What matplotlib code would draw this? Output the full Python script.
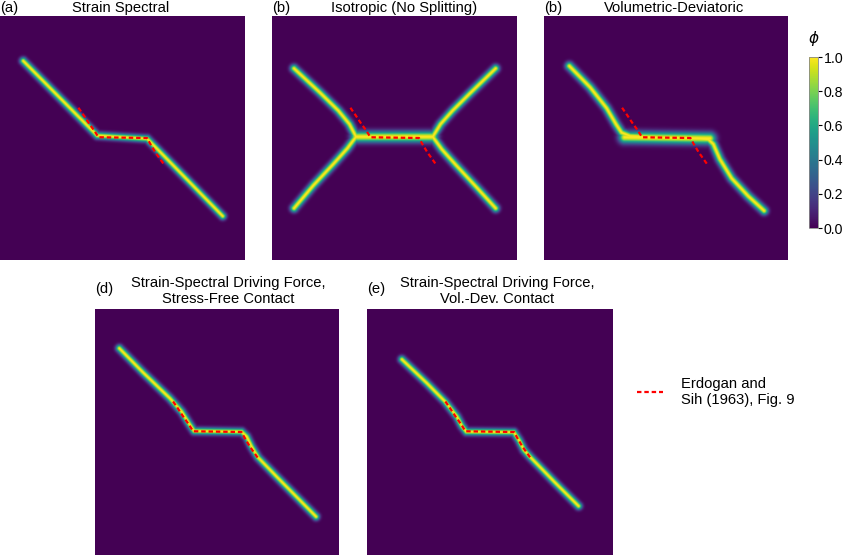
import numpy as np
import matplotlib
matplotlib.use('Agg')
import matplotlib.pyplot as plt
from matplotlib.lines import Line2D

plt.rcParams['font.family'] = ['Liberation Sans', 'DejaVu Sans']

# ---------------- data (axes-fraction coords, y measured from top) ----------------
panel_labels = ["(a)", "(b)", "(b)", "(d)", "(e)"]
panel_titles = ["Strain Spectral",
                "Isotropic (No Splitting)",
                "Volumetric-Deviatoric",
                "Strain-Spectral Driving Force,\nStress-Free Contact",
                "Strain-Spectral Driving Force,\nVol.-Dev. Contact"]

# (a) strain spectral
a_x = [0.095, 0.397, 0.601, 0.909]
a_y = [0.184, 0.490, 0.503, 0.820]

# (b) isotropic: four branches + horizontal bridge
b_ul_x = [0.090, 0.196, 0.271, 0.316, 0.343]
b_ul_y = [0.215, 0.314, 0.388, 0.443, 0.495]
b_ll_x = [0.343, 0.308, 0.250, 0.169, 0.090]
b_ll_y = [0.495, 0.542, 0.607, 0.694, 0.788]
b_h_x = [0.343, 0.656]
b_h_y = [0.495, 0.495]
b_ur_x = [0.656, 0.688, 0.737, 0.808, 0.913]
b_ur_y = [0.495, 0.443, 0.388, 0.317, 0.215]
b_lr_x = [0.656, 0.693, 0.751, 0.835, 0.913]
b_lr_y = [0.495, 0.546, 0.611, 0.702, 0.788]

# (c) volumetric-deviatoric
c_x = [0.104, 0.189, 0.257, 0.295, 0.318, 0.353, 0.462, 0.598, 0.674, 0.694, 0.721, 0.769, 0.837, 0.902]
c_y = [0.205, 0.292, 0.378, 0.443, 0.478, 0.492, 0.497, 0.499, 0.506, 0.525, 0.587, 0.665, 0.738, 0.798]
c_h_x = [0.33, 0.68]
c_h_y = [0.497, 0.502]

# (d) strain-spectral driving force, stress-free contact
d_x = [0.100, 0.198, 0.307, 0.355, 0.387, 0.406, 0.601, 0.622, 0.642, 0.669, 0.745, 0.906]
d_y = [0.160, 0.259, 0.363, 0.417, 0.468, 0.496, 0.499, 0.519, 0.560, 0.604, 0.682, 0.844]

# (e) strain-spectral driving force, vol.-dev. contact
e_x = [0.142, 0.244, 0.318, 0.366, 0.386, 0.404, 0.597, 0.618, 0.638, 0.665, 0.761, 0.860]
e_y = [0.205, 0.302, 0.377, 0.438, 0.476, 0.499, 0.501, 0.533, 0.573, 0.603, 0.702, 0.801]

# Erdogan and Sih (1963), Fig. 9 reference path
ref_x = [0.320, 0.340, 0.362, 0.385, 0.402, 0.600, 0.615, 0.635, 0.667]
ref_y = [0.376, 0.405, 0.438, 0.470, 0.497, 0.500, 0.527, 0.560, 0.605]

cbar_ticks = [0.0, 0.2, 0.4, 0.6, 0.8, 1.0]
legend_label = "Erdogan and\nSih (1963), Fig. 9"

# paths per panel: (xs, ys, band width factor)
panel_paths = [
    [(a_x, a_y, 1.0)],
    [(b_ul_x, b_ul_y, 1.1), (b_ll_x, b_ll_y, 1.1), (b_h_x, b_h_y, 1.6),
     (b_ur_x, b_ur_y, 1.1), (b_lr_x, b_lr_y, 1.1)],
    [(c_x, c_y, 1.15), (c_h_x, c_h_y, 1.7)],
    [(d_x, d_y, 1.0)],
    [(e_x, e_y, 1.0)],
]

# ---------------- layout (figure pixels) ----------------
W, H = 845, 555
# left, top, right, bottom in pixels
boxes = [(0, 16, 245, 260), (272, 16, 517, 260), (544, 16, 788, 260),
         (95, 309, 339, 555), (367, 309, 612, 555)]
title_cx = [120.5, 404, 674, 228, 497]


def seg_dist(X, Y, xs, ys):
    d = np.full(X.shape, np.inf)
    for i in range(len(xs) - 1):
        x0, y0, x1, y1 = xs[i], ys[i], xs[i + 1], ys[i + 1]
        dx, dy = x1 - x0, y1 - y0
        L2 = dx * dx + dy * dy
        t = np.clip(((X - x0) * dx + (Y - y0) * dy) / L2, 0, 1)
        d = np.minimum(d, np.hypot(X - (x0 + t * dx), Y - (y0 + t * dy)))
    return d


N = 500
g = (np.arange(N) + 0.5) / N
X, Y = np.meshgrid(g, g)
w0 = 0.0135

fig = plt.figure(figsize=(W / 100, H / 100), dpi=100)

im = None
for k, box in enumerate(boxes):
    l, t, r, b = box
    ax = fig.add_axes([l / W, 1 - b / H, (r - l) / W, (b - t) / H])
    phi = np.zeros_like(X)
    for xs, ys, wf in panel_paths[k]:
        dd = seg_dist(X, Y, xs, ys)
        phi = np.maximum(phi, np.exp(-(dd / (w0 * wf)) ** 2))
    im = ax.imshow(phi, cmap='viridis', vmin=0, vmax=1, extent=(0, 1, 1, 0),
                   origin='upper', aspect='auto', interpolation='antialiased')
    ax.plot(ref_x, ref_y, color='red', lw=1.6, linestyle=(0, (2.0, 1.3)))
    ax.set_xlim(0, 1)
    ax.set_ylim(1, 0)
    ax.axis('off')
    # titles
    if '\n' in panel_titles[k]:
        fig.text(title_cx[k] / W, 1 - (t - 3) / H, panel_titles[k], ha='center', va='bottom',
                 fontsize=10.6, linespacing=1.15)
        fig.text(l / W, 1 - (t - 20) / H, panel_labels[k], ha='left', va='center', fontsize=10.6)
    else:
        fig.text(title_cx[k] / W, 1 - (t - 8) / H, panel_titles[k], ha='center', va='center',
                 fontsize=10.6)
        fig.text(l / W, 1 - (t - 8) / H, panel_labels[k], ha='left', va='center', fontsize=10.6)

# colorbar
cax = fig.add_axes([809 / W, 1 - 228 / H, 9 / W, 171 / H])
cb = fig.colorbar(im, cax=cax, ticks=cbar_ticks)
cb.ax.set_yticklabels([f"{v:.1f}" for v in cbar_ticks], fontsize=10.2)
cb.ax.tick_params(length=3, width=0.8, pad=1.2)
cb.outline.set_linewidth(0.6)
cb.outline.set_edgecolor('#888888')
fig.text(814 / W, 1 - 38 / H, r'$\phi$', ha='center', va='center', fontsize=11)

# legend
handle = Line2D([], [], color='red', lw=1.6, linestyle=(0, (2.0, 1.3)))
fig.legend([handle], [legend_label], loc='center left', bbox_to_anchor=(637 / W, 1 - 392 / H),
           frameon=False, fontsize=10.6, handlelength=1.77, handletextpad=1.2,
           borderpad=0, borderaxespad=0)

fig.savefig('out.png', dpi=100)
